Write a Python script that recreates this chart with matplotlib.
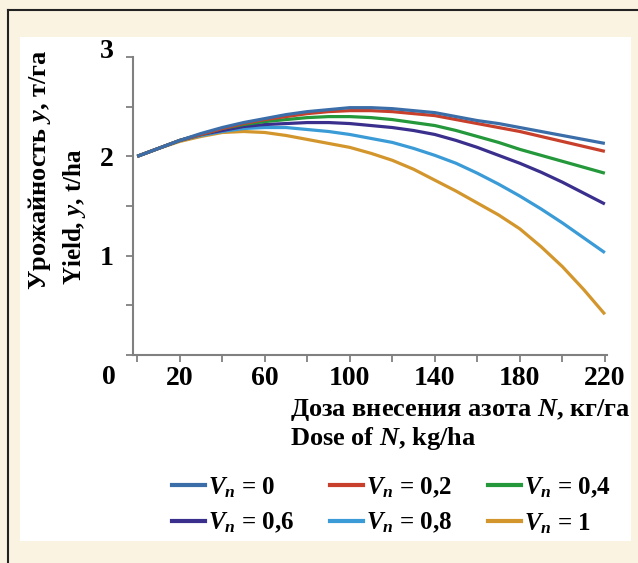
import matplotlib
matplotlib.use('Agg')
import matplotlib.pyplot as plt
from matplotlib.lines import Line2D
from matplotlib.patches import Rectangle
from matplotlib.transforms import ScaledTranslation

# ---- data ----
dose = [0, 10, 20, 30, 40, 50, 60, 70, 80, 90, 100, 110,
        120, 130, 140, 150, 160, 170, 180, 190, 200, 210, 220]
y_v00 = [2.00, 2.08, 2.16, 2.23, 2.29, 2.34, 2.38, 2.42, 2.45, 2.47, 2.49, 2.49,
         2.48, 2.46, 2.44, 2.40, 2.36, 2.33, 2.29, 2.25, 2.21, 2.17, 2.13]
y_v02 = [2.00, 2.08, 2.16, 2.22, 2.28, 2.33, 2.37, 2.40, 2.43, 2.45, 2.46, 2.46,
         2.45, 2.43, 2.41, 2.37, 2.33, 2.29, 2.25, 2.20, 2.15, 2.10, 2.05]
y_v04 = [2.00, 2.08, 2.16, 2.22, 2.28, 2.32, 2.35, 2.37, 2.39, 2.40, 2.40, 2.39,
         2.37, 2.34, 2.31, 2.26, 2.20, 2.14, 2.07, 2.01, 1.95, 1.89, 1.83]
y_v06 = [2.00, 2.08, 2.16, 2.22, 2.26, 2.30, 2.32, 2.33, 2.34, 2.34, 2.33, 2.31,
         2.29, 2.26, 2.22, 2.16, 2.09, 2.01, 1.93, 1.84, 1.74, 1.63, 1.52]
y_v08 = [2.00, 2.08, 2.16, 2.21, 2.25, 2.28, 2.29, 2.29, 2.27, 2.25, 2.22, 2.18,
         2.14, 2.08, 2.01, 1.93, 1.83, 1.72, 1.60, 1.47, 1.33, 1.18, 1.03]
y_v10 = [2.00, 2.08, 2.15, 2.20, 2.24, 2.25, 2.24, 2.21, 2.17, 2.13, 2.09, 2.03,
         1.96, 1.87, 1.76, 1.65, 1.53, 1.41, 1.27, 1.09, 0.89, 0.66, 0.41]
series = [y_v00, y_v02, y_v04, y_v06, y_v08, y_v10]
labels = ['$V_п$ = 0', '$V_п$ = 0,2', '$V_п$ = 0,4',
          '$V_п$ = 0,6', '$V_п$ = 0,8', '$V_п$ = 1']
colors = ['#3b6ea8', '#c8402b', '#24983a', '#3a2f8c', '#3a9bd6', '#d3962c']
x_ticks = [0, 20, 40, 60, 80, 100, 120, 140, 160, 180, 200, 220]
x_ticklabels = ['', '20', '', '60', '', '100', '', '140', '', '180', '', '220']
y_ticks = [0, 0.5, 1, 1.5, 2, 2.5, 3]
y_ticklabels = ['', '', '1', '', '2', '', '3']

plt.rcParams['font.family'] = ['Liberation Serif', 'DejaVu Serif']
plt.rcParams['font.weight'] = 'bold'
plt.rcParams['mathtext.fontset'] = 'custom'
plt.rcParams['mathtext.it'] = 'Liberation Serif:italic:bold'
plt.rcParams['mathtext.rm'] = 'Liberation Serif:bold'
plt.rcParams['mathtext.bf'] = 'Liberation Serif:bold'

W, H = 638, 563
fig = plt.figure(figsize=(W / 100, H / 100), dpi=100, facecolor='#FAF3E1')


def fx(px):
    return px / W


def fy(py):
    return 1 - py / H


# white panel and frame lines
fig.patches.append(Rectangle((fx(20), fy(541)), fx(631) - fx(20), fy(37) - fy(541),
                             transform=fig.transFigure, facecolor='white',
                             edgecolor='none', zorder=-5))
fig.lines.append(Line2D([fx(8), 1.0], [fy(10), fy(10)], transform=fig.transFigure,
                        color='#222222', lw=1.5, zorder=-4))
fig.lines.append(Line2D([fx(8), fx(8)], [fy(10), 0.0], transform=fig.transFigure,
                        color='#222222', lw=1.5, zorder=-4))

ax = fig.add_axes([fx(133), fy(355), (607 - 133) / W, (355 - 57) / H])
ax.set_facecolor('none')
ax.set_zorder(2)

for ys, c in reversed(list(zip(series, colors))):
    ax.plot(dose, ys, color=c, lw=2.3, solid_capstyle='butt', solid_joinstyle='round')

ax.set_xlim(-2, 221)
ax.set_ylim(0, 3)
ax.set_xticks(x_ticks)
ax.set_xticklabels(x_ticklabels)
ax.set_yticks(y_ticks)
ax.set_yticklabels(y_ticklabels)
for s in ['top', 'right']:
    ax.spines[s].set_visible(False)
for s in ['left', 'bottom']:
    ax.spines[s].set_color('#808080')
    ax.spines[s].set_linewidth(1.5)
ax.tick_params(axis='both', colors='#808080', length=5, width=1.3,
               labelcolor='black', labelsize=20)
ax.tick_params(axis='x', pad=3)
ax.tick_params(axis='y', pad=9)
for lbl in ax.get_yticklabels():
    if lbl.get_text() == '3':
        lbl.set_transform(lbl.get_transform() + ScaledTranslation(0, 0.09, fig.dpi_scale_trans))

fig.text(fx(109), fy(378), '0', ha='center', va='center', fontsize=20)

fig.text(fx(290), fy(410), 'Доза внесения азота $N$, кг/га', ha='left', va='center',
         fontsize=19)
fig.text(fx(290), fy(438), 'Dose of $N$, kg/ha', ha='left', va='center', fontsize=19)

fig.text(fx(40), fy(290), 'Урожайность $y$, т/га', rotation=90, ha='center',
         va='bottom', fontsize=19)
fig.text(fx(75), fy(285), 'Yield, $y$, t/ha', rotation=90, ha='center',
         va='bottom', fontsize=18)

handles = [Line2D([], [], color=c, lw=3) for c in colors]
order = [0, 3, 1, 4, 2, 5]
fig.legend([handles[i] for i in order], [labels[i] for i in order], ncol=3,
           loc='upper left', bbox_to_anchor=(fx(172), fy(475)), frameon=False,
           fontsize=18, handlelength=1.3, handletextpad=0.15,
           columnspacing=1.42, labelspacing=0.45, borderaxespad=0, borderpad=0)

fig.savefig('out.png', dpi=100, facecolor=fig.get_facecolor())
